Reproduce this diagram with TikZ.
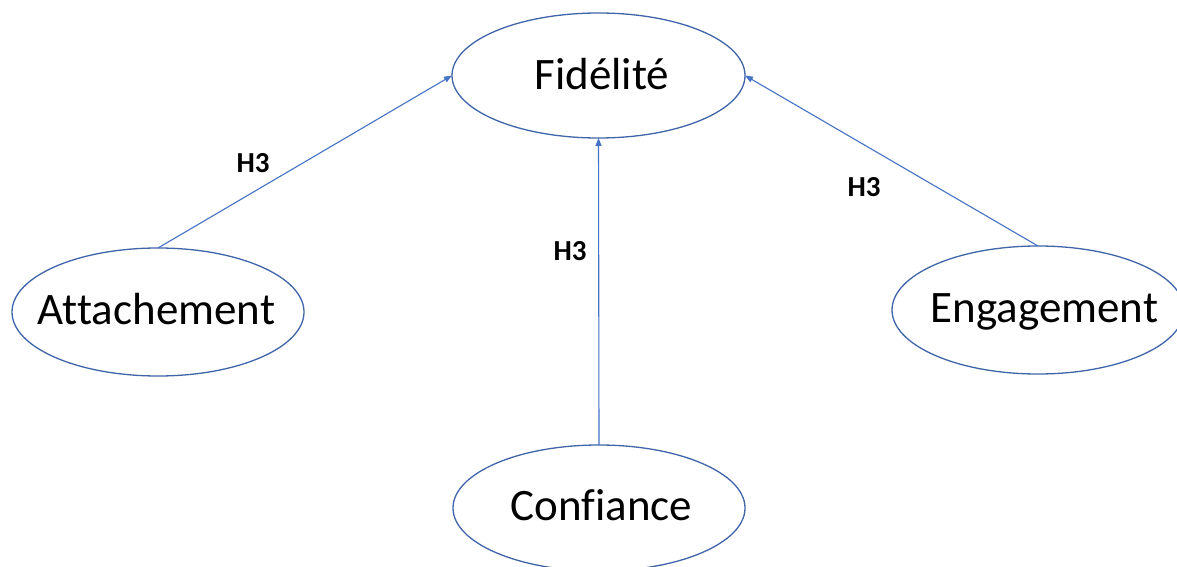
\documentclass[tikz,border=0pt]{standalone}
\usepackage{fontspec}
\setmainfont{Carlito}[Ligatures={NoCommon}]
\usetikzlibrary{shapes.geometric,arrows.meta}
\definecolor{ovalblue}{HTML}{3F64A8}
\definecolor{linkblue}{HTML}{4472C4}
\begin{document}
\begin{tikzpicture}[x=1pt,y=-1pt,
  oval/.style={ellipse, draw=ovalblue, line width=1.3pt, inner sep=0pt, outer sep=0pt,
    minimum width=292pt, minimum height=126pt},
  ovaltext/.style={font=\fontsize{45}{45}\selectfont, text height=29pt, text depth=0pt, inner sep=0pt},
  hyp/.style={font=\fontsize{29}{29}\selectfont\bfseries, inner sep=0pt},
  link/.style={draw=linkblue, line width=1.1pt, -{Triangle[length=8pt,width=6pt]}}]
\useasboundingbox (0,0) rectangle (1177,567);
\begin{scope}
\clip (0,0) rectangle (1177,567);
% constructs
\node[oval, minimum width=293pt, minimum height=125pt] (fid) at (598.5,75.5) {};
\node[oval, minimum height=128pt] (att) at (158,312) {};
\node[oval, minimum height=128pt] (eng) at (1038,310) {};
\node[oval] (conf) at (599,508) {};
\node[ovaltext] (fidtxt) at (602,75.5) {Fidélité};
\node[ovaltext] (atttxt) at (156.5,310) {Attachement};
\node[ovaltext] (engtxt) at (1044.5,308) {Engagement};
\node[ovaltext] (conftxt) at (601.5,506) {Confiance};
% hypotheses
\draw[link] (att.north) -- (fid.west);
\draw[link] (conf.north) -- (fid.south);
\draw[link] (eng.north) -- (fid.east);
\node[hyp] (h3a) at (253,163) {H3};
\node[hyp] (h3b) at (570,251) {H3};
\node[hyp] (h3c) at (864,187) {H3};
\end{scope}
\end{tikzpicture}
\end{document}
